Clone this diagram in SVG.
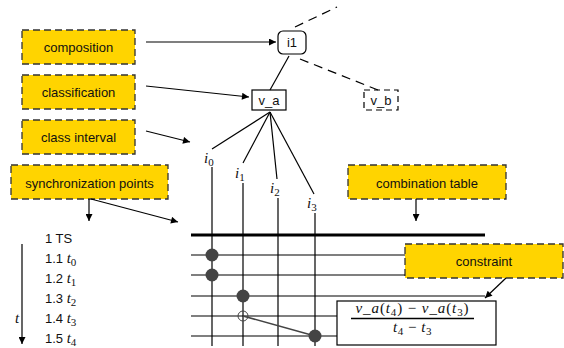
<svg xmlns="http://www.w3.org/2000/svg" width="564" height="348" viewBox="0 0 564 348">
  <style>
    .note rect { fill: #ffd400; stroke: #333; stroke-width: 1.3; stroke-dasharray: 7 4; }
    .lbl { font-family: "Liberation Sans", Arial, sans-serif; font-size: 13px; fill: #111; text-anchor: middle; }
    .row { font-family: "Liberation Sans", Arial, sans-serif; font-size: 13px; fill: #111; }
    .math { font-family: "Liberation Serif", "Times New Roman", serif; font-style: italic; fill: #111; }
    .sub { font-family: "Liberation Serif", "Times New Roman", serif; font-style: normal; font-size: 11px; fill: #111; }
    .up { font-style: normal; fill: #111; }
    .ln { stroke: #000; stroke-width: 1.2; fill: none; }
    .dash { stroke: #000; stroke-width: 1.2; fill: none; stroke-dasharray: 9 6; }
    .arr { stroke: #000; stroke-width: 1.2; fill: none; marker-end: url(#ah); }
    .dot { fill: #444; }
  </style>
  <defs>
    <marker id="ah" viewBox="0 0 10 10" refX="10" refY="5" markerWidth="10" markerHeight="7" markerUnits="userSpaceOnUse" orient="auto">
      <path d="M0,0 L10,5 L0,10 z" fill="#000"/>
    </marker>
  </defs>

  <!-- annotation notes -->
  <g id="composition" class="note"><rect x="22" y="30" width="113" height="34"/><text class="lbl" x="78.5" y="52">composition</text></g>
  <g id="classification" class="note"><rect x="22" y="75" width="113" height="34"/><text class="lbl" x="78.5" y="97">classification</text></g>
  <g id="class-interval" class="note"><rect x="22" y="120" width="113" height="34"/><text class="lbl" x="78.5" y="142">class interval</text></g>
  <g id="sync-points" class="note"><rect x="11" y="165" width="157" height="34"/><text class="lbl" x="89.5" y="188">synchronization points</text></g>
  <g id="combination-table" class="note"><rect x="348" y="165" width="158" height="34"/><text class="lbl" x="427" y="188">combination table</text></g>
  <g id="constraint" class="note"><rect x="405" y="244" width="158" height="34"/><text class="lbl" x="484" y="266">constraint</text></g>

  <!-- tree nodes -->
  <g id="i1"><rect x="278" y="31" width="28" height="23" rx="5" fill="#fff" stroke="#000" stroke-width="1.2"/><text class="lbl" x="292" y="47">i1</text></g>
  <g id="v_a"><rect x="252" y="90" width="34" height="20" fill="#fff" stroke="#000" stroke-width="1.2"/><text class="lbl" x="269" y="105">v_a</text></g>
  <g id="v_b"><rect x="364" y="90" width="34" height="20" fill="#fff" stroke="#000" stroke-width="1.2" stroke-dasharray="6 4"/><text class="lbl" x="381" y="105">v_b</text></g>

  <!-- interval labels -->
  <g id="interval-labels" class="math" font-size="15">
    <text x="204" y="163">i<tspan class="sub" dy="3">0</tspan></text>
    <text x="235" y="178">i<tspan class="sub" dy="3">1</tspan></text>
    <text x="270" y="193">i<tspan class="sub" dy="3">2</tspan></text>
    <text x="307" y="208">i<tspan class="sub" dy="3">3</tspan></text>
  </g>

  <!-- timeline rows -->
  <g id="rows">
    <text class="row" x="45" y="243">1 TS</text>
    <text class="row" x="45" y="263">1.1 <tspan class="math" font-size="15">t<tspan class="sub" dy="3">0</tspan></tspan></text>
    <text class="row" x="45" y="283">1.2 <tspan class="math" font-size="15">t<tspan class="sub" dy="3">1</tspan></tspan></text>
    <text class="row" x="45" y="303">1.3 <tspan class="math" font-size="15">t<tspan class="sub" dy="3">2</tspan></tspan></text>
    <text class="row" x="45" y="323">1.4 <tspan class="math" font-size="15">t<tspan class="sub" dy="3">3</tspan></tspan></text>
    <text class="row" x="45" y="343">1.5 <tspan class="math" font-size="15">t<tspan class="sub" dy="3">4</tspan></tspan></text>
    <text class="math" font-size="15" x="15" y="323">t</text>
  </g>

  <!-- formula -->
  <g id="formula">
    <rect x="337" y="301" width="159" height="44" fill="#fff" stroke="#000" stroke-width="1.2"/>
    <text class="math" font-size="15" x="412.5" y="313" text-anchor="middle" letter-spacing="0.9">v<tspan class="up">_</tspan>a<tspan class="up">(</tspan>t<tspan class="sub" dy="3">4</tspan><tspan class="up" dy="-3">) − </tspan>v<tspan class="up">_</tspan>a<tspan class="up">(</tspan>t<tspan class="sub" dy="3">3</tspan><tspan class="up" dy="-3">)</tspan></text>
    <line x1="351" y1="318.5" x2="474" y2="318.5" stroke="#000" stroke-width="1.3"/>
    <text class="math" font-size="15" x="412.5" y="332" text-anchor="middle" letter-spacing="0.5">t<tspan class="sub" dy="3">4</tspan><tspan class="up" dy="-3"> − </tspan>t<tspan class="sub" dy="3">3</tspan></text>
  </g>

  <g id="connectors">
    <!-- note arrows -->
    <line class="arr" x1="146" y1="42" x2="276" y2="42"/>
    <line class="arr" x1="146" y1="86" x2="249" y2="97"/>
    <line class="arr" x1="146" y1="131" x2="190" y2="142"/>
    <line class="arr" x1="89" y1="199" x2="89" y2="221"/>
    <line class="arr" x1="91" y1="199" x2="178" y2="222"/>
    <line class="arr" x1="416" y1="199" x2="416" y2="221"/>
    <line class="arr" x1="506" y1="278" x2="485" y2="298"/>

    <!-- tree edges -->
    <line class="dash" x1="295" y1="27" x2="337" y2="7"/>
    <line class="dash" x1="300" y1="59" x2="378" y2="90"/>
    <line class="ln" x1="289" y1="56" x2="270" y2="90"/>
    <line class="ln" x1="270" y1="112" x2="212" y2="149"/>
    <line class="ln" x1="270" y1="112" x2="243" y2="163"/>
    <line class="ln" x1="270" y1="112" x2="277" y2="179"/>
    <line class="ln" x1="270" y1="112" x2="314" y2="194"/>

    <!-- time axis -->
    <line class="arr" x1="22" y1="244" x2="22" y2="344"/>

    <!-- grid: interval columns -->
    <line class="ln" x1="212" y1="167" x2="212" y2="346"/>
    <line class="ln" x1="243" y1="183" x2="243" y2="346"/>
    <line class="ln" x1="278" y1="198" x2="278" y2="346"/>
    <line class="ln" x1="315" y1="213" x2="315" y2="346"/>

    <!-- grid: time rows -->
    <line x1="191" y1="235" x2="485" y2="235" stroke="#000" stroke-width="3"/>
    <line class="ln" x1="191" y1="255" x2="405" y2="255"/>
    <line class="ln" x1="191" y1="275" x2="405" y2="275"/>
    <line class="ln" x1="191" y1="296" x2="485" y2="296"/>
    <line class="ln" x1="191" y1="316" x2="337" y2="316"/>
    <line class="ln" x1="191" y1="336" x2="337" y2="336"/>

    <!-- combination marks -->
    <line x1="243" y1="316" x2="315" y2="336" stroke="#444" stroke-width="1.5"/>
    <circle class="dot" cx="212" cy="255" r="6.5"/>
    <circle class="dot" cx="212" cy="275" r="6.5"/>
    <circle class="dot" cx="243" cy="296" r="6.5"/>
    <circle class="dot" cx="315" cy="336" r="6.5"/>
    <circle cx="243" cy="316" r="5" fill="none" stroke="#444" stroke-width="1"/>
  </g>
</svg>
